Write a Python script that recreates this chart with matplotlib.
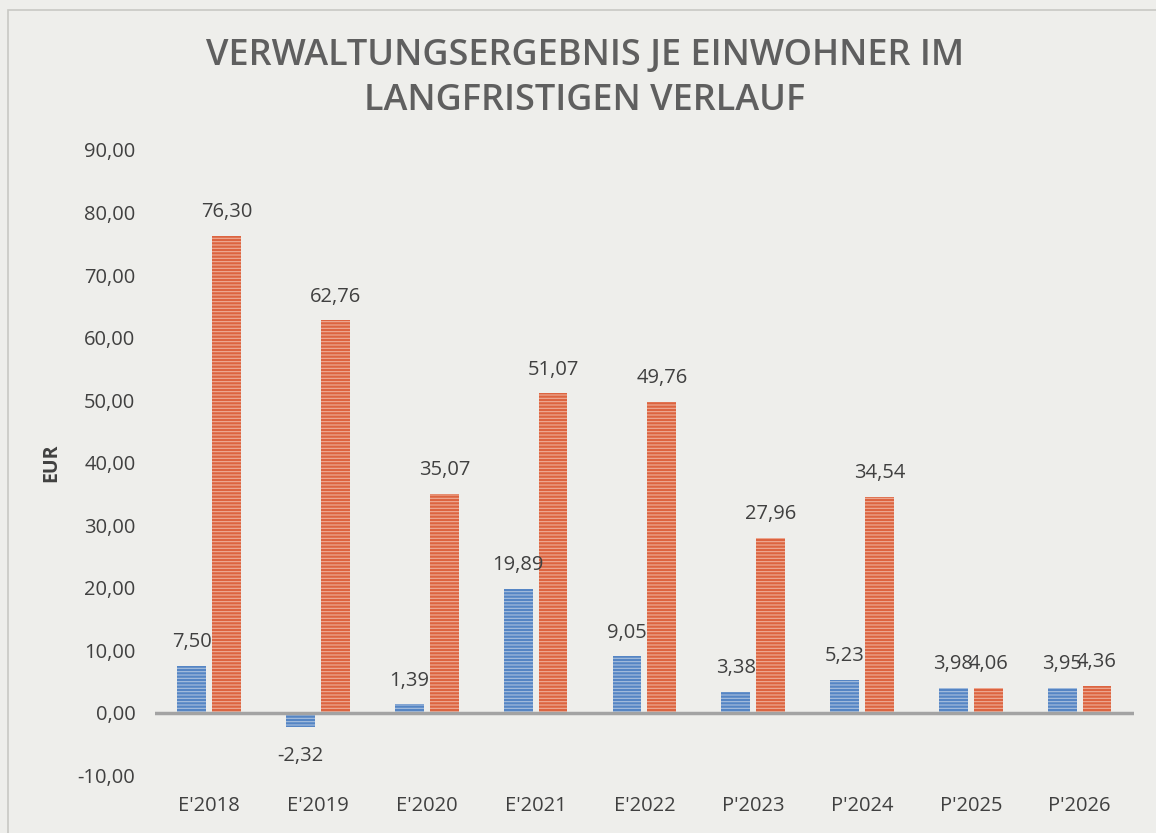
import numpy as np
import matplotlib.pyplot as plt
from matplotlib.patches import Rectangle

# --- Data ---
categories = ["E'2018", "E'2019", "E'2020", "E'2021", "E'2022",
              "P'2023", "P'2024", "P'2025", "P'2026"]
series_blue = [7.50, -2.32, 1.39, 19.89, 9.05, 3.38, 5.23, 3.98, 3.95]
series_red = [76.30, 62.76, 35.07, 51.07, 49.76, 27.96, 34.54, 4.06, 4.36]
yticks = [-10, 0, 10, 20, 30, 40, 50, 60, 70, 80, 90]


def de(v):
    return f"{v:.2f}".replace(".", ",")


plt.rcParams['font.family'] = ['Open Sans', 'DejaVu Sans']
plt.rcParams['hatch.linewidth'] = 0.8

bg = '#eeeeeb'
txt = '#404040'
fs = 14.5

fig = plt.figure(figsize=(11.56, 8.33), dpi=100, facecolor=bg)
ax = fig.add_axes([0.134, 0.069, 0.847, 0.751])
ax.set_facecolor(bg)

# chart border
fig.patches.append(Rectangle((0.007, -0.01), 1.2, 0.998, transform=fig.transFigure,
                             fill=False, edgecolor='#c8c8c4', linewidth=1.2))

x = np.arange(len(categories))
w = 0.265
off = 0.16
ax.bar(x - off, series_blue, w, color='#5585c4', edgecolor='#a9c0de',
       hatch='-----', linewidth=0)
ax.bar(x + off, series_red, w, color='#dc6440', edgecolor='#efae98',
       hatch='-----', linewidth=0)

for xi, v in zip(x, series_blue):
    if v >= 0:
        ax.text(xi - off, v + 2.2, de(v), ha='center', va='bottom', fontsize=fs, color=txt)
    else:
        ax.text(xi - off, v - 3.0, de(v), ha='center', va='top', fontsize=fs, color=txt)
for xi, v in zip(x, series_red):
    ax.text(xi + off, v + 2.2, de(v), ha='center', va='bottom', fontsize=fs, color=txt)

ax.axhline(0, color='#a3a3a3', linewidth=2.5, zorder=3)

ax.set_xlim(-0.5, len(categories) - 0.5)
ax.set_ylim(-10, 90)
ax.set_yticks(yticks)
ax.set_yticklabels([de(t) for t in yticks], fontsize=fs, color=txt)
ax.set_xticks(x)
ax.set_xticklabels(categories, fontsize=fs, color=txt)
ax.tick_params(axis='both', length=0)
ax.tick_params(axis='y', pad=14)
ax.tick_params(axis='x', pad=15)
for s in ax.spines.values():
    s.set_visible(False)

ax.set_ylabel('EUR', fontsize=14, fontweight='bold', color=txt, labelpad=12)

fig.text(0.506, 0.933, 'VERWALTUNGSERGEBNIS JE EINWOHNER IM', ha='center', va='center',
         fontsize=26, fontweight='semibold', color='#5f5f5f')
fig.text(0.506, 0.879, 'LANGFRISTIGEN VERLAUF', ha='center', va='center',
         fontsize=26, fontweight='semibold', color='#5f5f5f')

fig.savefig('out.png', dpi=100, facecolor=bg)
